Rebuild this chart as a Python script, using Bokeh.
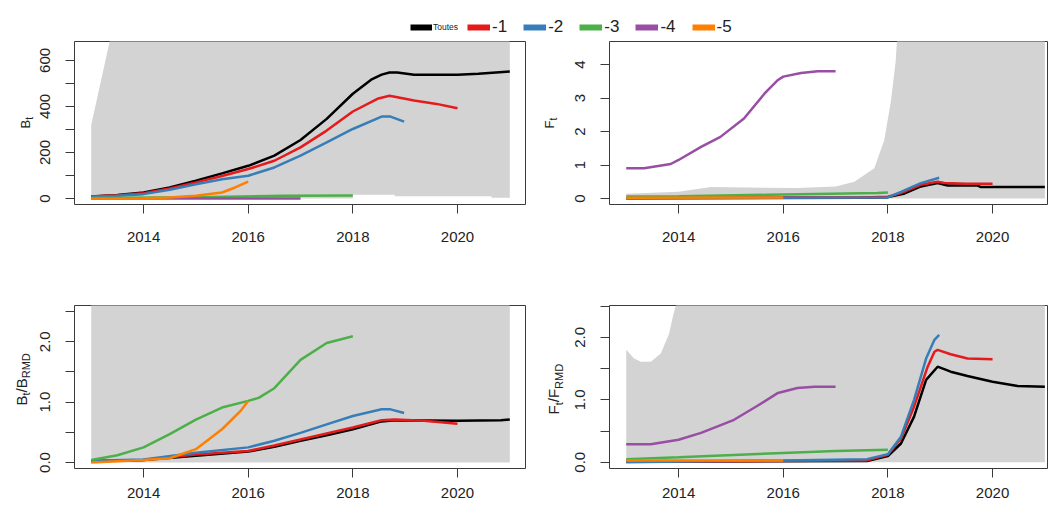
import math
from bokeh.plotting import figure
from bokeh.layouts import column, row
from bokeh.models import Range1d, FixedTicker, Legend, LegendItem
from bokeh.embed import file_html
from bokeh.resources import INLINE

# ---------------- data ----------------
series = ["Toutes", "-1", "-2", "-3", "-4", "-5"]
colors = ["#000000", "#E41A1C", "#377EB8", "#4DAF4A", "#984EA3", "#FF7F00"]

bt_x = {
    "Toutes": [2013.0, 2013.5, 2014.0, 2014.5, 2015.0, 2015.5, 2016.0, 2016.5, 2017.0, 2017.5, 2018.0, 2018.35, 2018.55, 2018.7, 2018.85, 2019.17, 2020.0, 2020.4, 2021.0],
    "-1": [2013.0, 2013.5, 2014.0, 2014.5, 2015.0, 2015.5, 2016.0, 2016.5, 2017.0, 2017.5, 2018.0, 2018.47, 2018.7, 2018.85, 2019.17, 2019.6, 2020.0],
    "-2": [2013.0, 2013.5, 2014.0, 2014.5, 2015.0, 2015.5, 2016.0, 2016.5, 2017.0, 2017.5, 2018.0, 2018.55, 2018.72, 2018.98],
    "-3": [2013.0, 2015.0, 2016.7, 2018.0],
    "-4": [2013.0, 2017.0],
    "-5": [2013.0, 2014.0, 2014.5, 2015.0, 2015.5, 2015.75, 2016.0],
}
bt_y = {
    "Toutes": [9, 15, 26, 48, 77, 109, 142, 186, 254, 346, 455, 516, 538, 547, 547, 538, 538, 542, 552],
    "-1": [9, 14, 23, 44, 70, 98, 128, 164, 222, 295, 378, 433, 446, 440, 426, 411, 392],
    "-2": [8, 12, 19, 38, 62, 84, 99, 135, 186, 244, 302, 356, 356, 334],
    "-3": [2, 5, 12, 13],
    "-4": [0, 0],
    "-5": [0, 1, 4, 12, 26, 48, 73],
}
bt_band_x = [2013.0, 2013.36, 2013.5, 2018.0, 2018.0, 2018.8, 2018.8, 2020.65, 2020.65, 2021.0]
bt_band_lo = [0, 0, 0, 0, 16, 16, 10, 10, 3, 3]
bt_band_hi = [320, 690, 1000, 1000, 1000, 1000, 1000, 1000, 1000, 1000]

ft_x = {
    "Toutes": [2013.0, 2017.5, 2018.0, 2018.3, 2018.63, 2018.95, 2019.14, 2019.7, 2019.78, 2021.0],
    "-1": [2013.0, 2017.5, 2018.0, 2018.25, 2018.63, 2018.95, 2019.08, 2019.5, 2020.0],
    "-2": [2013.0, 2018.0, 2018.25, 2018.63, 2018.98],
    "-3": [2013.0, 2014.0, 2015.7, 2017.8, 2018.0],
    "-4": [2013.0, 2013.34, 2013.85, 2014.0, 2014.43, 2014.8, 2015.25, 2015.64, 2015.9, 2016.0, 2016.34, 2016.66, 2017.0],
    "-5": [2013.0, 2016.0],
}
ft_y = {
    "Toutes": [0.01, 0.02, 0.04, 0.14, 0.36, 0.46, 0.39, 0.39, 0.34, 0.34],
    "-1": [0.02, 0.03, 0.05, 0.16, 0.41, 0.50, 0.46, 0.44, 0.44],
    "-2": [0.01, 0.03, 0.20, 0.46, 0.62],
    "-3": [0.06, 0.07, 0.11, 0.16, 0.18],
    "-4": [0.90, 0.90, 1.03, 1.15, 1.54, 1.84, 2.39, 3.13, 3.54, 3.64, 3.75, 3.80, 3.80],
    "-5": [0.02, 0.03],
}
ft_band_x = [2013.0, 2014.0, 2014.62, 2016.27, 2017.0, 2017.36, 2017.74, 2017.93, 2018.06, 2018.15, 2018.22, 2021.0]
ft_band_lo = [0, 0, 0, 0, 0, 0, 0, 0, 0, 0, 0, 0]
ft_band_hi = [0.14, 0.20, 0.34, 0.31, 0.36, 0.50, 0.90, 1.74, 2.93, 4.12, 6.0, 6.0]

br_x = {
    "Toutes": [2013.0, 2014.0, 2015.0, 2016.0, 2016.5, 2017.0, 2017.5, 2018.0, 2018.55, 2018.8, 2020.0, 2020.83, 2021.0],
    "-1": [2013.0, 2014.0, 2015.0, 2016.0, 2016.5, 2017.0, 2017.5, 2018.0, 2018.55, 2018.8, 2019.36, 2020.0],
    "-2": [2013.0, 2014.0, 2015.0, 2016.0, 2016.5, 2017.0, 2017.5, 2018.0, 2018.55, 2018.72, 2018.98],
    "-3": [2013.0, 2013.5, 2014.0, 2014.5, 2015.0, 2015.5, 2016.0, 2016.2, 2016.5, 2017.0, 2017.5, 2018.0],
    "-5": [2013.0, 2014.0, 2014.5, 2015.0, 2015.5, 2015.85, 2016.0],
}
br_y = {
    "Toutes": [0.02, 0.04, 0.11, 0.18, 0.26, 0.36, 0.45, 0.55, 0.68, 0.70, 0.69, 0.70, 0.71],
    "-1": [0.02, 0.04, 0.13, 0.19, 0.28, 0.38, 0.48, 0.58, 0.70, 0.71, 0.69, 0.64],
    "-2": [0.03, 0.05, 0.16, 0.25, 0.36, 0.49, 0.63, 0.77, 0.88, 0.88, 0.82],
    "-3": [0.04, 0.12, 0.25, 0.47, 0.71, 0.91, 1.02, 1.07, 1.23, 1.70, 1.98, 2.09],
    "-5": [0.00, 0.04, 0.07, 0.22, 0.55, 0.85, 1.02],
}
br_band_x = [2013.0, 2021.0]
br_band_lo = [0, 0]
br_band_hi = [5, 5]

fr_x = {
    "Toutes": [2013.0, 2017.6, 2018.0, 2018.25, 2018.5, 2018.73, 2018.95, 2019.2, 2019.52, 2020.0, 2020.48, 2021.0],
    "-1": [2013.0, 2017.6, 2018.0, 2018.25, 2018.5, 2018.76, 2018.89, 2018.95, 2019.2, 2019.52, 2020.0],
    "-2": [2013.0, 2016.0, 2017.6, 2018.0, 2018.25, 2018.5, 2018.73, 2018.89, 2018.98],
    "-3": [2013.0, 2014.0, 2016.0, 2017.0, 2018.0],
    "-4": [2013.0, 2013.47, 2014.0, 2014.43, 2015.06, 2015.5, 2015.9, 2016.27, 2016.6, 2017.0],
    "-5": [2013.0, 2016.0],
}
fr_y = {
    "Toutes": [0.01, 0.02, 0.10, 0.30, 0.73, 1.32, 1.53, 1.45, 1.38, 1.29, 1.22, 1.21],
    "-1": [0.01, 0.03, 0.12, 0.38, 0.89, 1.53, 1.77, 1.80, 1.73, 1.66, 1.65],
    "-2": [0.00, 0.03, 0.05, 0.13, 0.41, 1.00, 1.66, 1.96, 2.04],
    "-3": [0.05, 0.08, 0.15, 0.18, 0.20],
    "-4": [0.29, 0.29, 0.36, 0.47, 0.68, 0.90, 1.11, 1.19, 1.21, 1.21],
    "-5": [0.03, 0.03],
}
fr_band_x = [2013.0, 2013.15, 2013.28, 2013.47, 2013.66, 2013.82, 2013.89, 2013.95, 2014.05, 2021.0]
fr_band_lo = [0, 0, 0, 0, 0, 0, 0, 0, 0, 0]
fr_band_hi = [1.80, 1.66, 1.61, 1.61, 1.74, 2.06, 2.33, 2.52, 5.0, 5.0]

x_ticks = [2014, 2016, 2018, 2020]
bt_ticks = [0, 100, 200, 300, 400, 500, 600]
bt_labels = {100.0: "", 300.0: "", 500.0: ""}
ft_ticks = [0, 1, 2, 3, 4]
ratio_ticks = [0, 0.5, 1.0, 1.5, 2.0, 2.5]
ratio_labels = {0.0: "0.0", 0.5: "", 1.0: "1.0", 1.5: "", 2.0: "2.0", 2.5: ""}

FONT = "Liberation Sans"
TXT = "#222222"
BAND = "#D3D3D3"
EDGE = "#3a3a3a"

CW = {"B": 0.667, "F": 0.611, "t": 0.278, "/": 0.278, "R": 0.722, "M": 0.833, "D": 0.722}


def tw(s, px):
    return sum(CW.get(c, 0.6) for c in s) * px


def panel(w, h, bl, br, bt, bb, xr, yr, yticks, yover, x_standoff):
    p = figure(width=w, height=h, min_border_left=bl, min_border_right=br,
               min_border_top=bt, min_border_bottom=bb,
               x_range=Range1d(*xr), y_range=Range1d(*yr),
               toolbar_location=None, output_backend="svg",
               background_fill_color="white", border_fill_color="white")
    p.grid.visible = False
    p.outline_line_color = EDGE
    p.outline_line_width = 1
    xa = p.xaxis[0]
    ya = p.yaxis[0]
    xa.ticker = FixedTicker(ticks=x_ticks, minor_ticks=[])
    ya.ticker = FixedTicker(ticks=yticks, minor_ticks=[])
    for ax in (xa, ya):
        ax.axis_line_color = None
        ax.major_tick_in = 0
        ax.major_tick_out = 9
        ax.major_tick_line_color = EDGE
        ax.minor_tick_line_color = None
        ax.major_label_text_font = FONT
        ax.major_label_text_font_size = "15px"
        ax.major_label_text_color = TXT
    xa.major_label_standoff = x_standoff
    ya.major_label_orientation = "parallel"
    ya.major_label_standoff = 15
    if yover:
        ya.major_label_overrides = yover
    return p


def draw(p, bx, blo, bhi, xs, ys):
    p.varea(x=bx, y1=blo, y2=bhi, fill_color=BAND, fill_alpha=1.0)
    for name, c in zip(series, colors):
        if name in xs:
            p.line(xs[name], ys[name], line_color=c, line_width=2.5)


def title_fig(w, h, frame_top, frame_bottom, pieces, x, page_y0, sub_shift):
    """Narrow figure holding a rotated axis title. Its frame is aligned by the
    row with the neighbouring plot frame, so y is expressed as -page_y."""
    t = figure(width=w, height=h, min_border=0, x_range=Range1d(0, w),
               y_range=Range1d(-frame_bottom, -frame_top),
               toolbar_location=None, output_backend="svg", outline_line_color=None,
               background_fill_color="white", border_fill_color="white")
    t.axis.visible = False
    t.grid.visible = False
    y = -page_y0
    for text, px, sub in pieces:
        t.text(x=[x + (sub_shift if sub else 0)], y=[y], text=[text], angle=math.pi / 2,
               text_align="left", text_baseline="middle", text_font={"value": FONT},
               text_font_size=f"{px}px", text_color=TXT)
        y += tw(text, px)
    return t


hdr = figure(width=1050, height=40, min_border=0, x_range=Range1d(0, 1050), y_range=Range1d(0, 40),
             toolbar_location=None, output_backend="svg", outline_line_color=None,
             background_fill_color="white", border_fill_color="white")
hdr.axis.visible = False
hdr.grid.visible = False
dummies = [hdr.line([0, 1], [-50, -50], line_color=c, line_width=6) for c in colors]
leg1 = Legend(items=[LegendItem(label=series[0], renderers=[dummies[0]])], location=(410, 3),
              orientation="horizontal", glyph_width=22, glyph_height=20, label_standoff=1,
              label_width=0, label_text_font=FONT, label_text_font_size="8.5px", label_text_color=TXT,
              padding=0, margin=0, border_line_color=None, background_fill_alpha=0)
leg2 = Legend(items=[LegendItem(label=s, renderers=[r]) for s, r in zip(series[1:], dummies[1:])],
              location=(467, 3), orientation="horizontal", glyph_width=23, glyph_height=20,
              label_standoff=2, label_width=0, spacing=16, label_text_font=FONT,
              label_text_font_size="17px", label_text_color=TXT,
              padding=0, margin=0, border_line_color=None, background_fill_alpha=0)
hdr.add_layout(leg1)
hdr.add_layout(leg2)

XL = (2012.68, 2021.30)
XR = (2012.68, 2021.05)

H1 = 228
t1 = title_fig(36, H1, 41, 204, [("B", 13, False), ("t", 10, True)], 25, 128, 4)
p1 = panel(504, H1, 38, 15, 1, 64, XL, (-26, 682), bt_ticks, bt_labels, 18)
draw(p1, bt_band_x, bt_band_lo, bt_band_hi, bt_x, bt_y)
t2 = title_fig(28, H1, 41, 204, [("F", 13, False), ("t", 10, True)], 549 - 540, 128, 4)
p2 = panel(482, H1, 41, 3, 1, 64, XR, (-0.18, 4.69), ft_ticks, None, 18)
draw(p2, ft_band_x, ft_band_lo, ft_band_hi, ft_x, ft_y)

H2 = 237
t3 = title_fig(36, H2, 305, 468, [("B", 15, False), ("t", 11, True), ("/B", 15, False), ("RMD", 11, True)],
               20.5, 405, 5)
p3 = panel(504, H2, 38, 15, 37, 37, XL, (-0.1, 2.6), ratio_ticks, ratio_labels, 10)
draw(p3, br_band_x, br_band_lo, br_band_hi, br_x, br_y)
t4 = title_fig(28, H2, 305, 468, [("F", 15, False), ("t", 11, True), ("/F", 15, False), ("RMD", 11, True)],
               553 - 540, 414, 5)
p4 = panel(482, H2, 41, 3, 37, 37, XR, (-0.1, 2.51), ratio_ticks, ratio_labels, 10)
draw(p4, fr_band_x, fr_band_lo, fr_band_hi, fr_x, fr_y)

layout = column(hdr, row(t1, p1, t2, p2), row(t3, p3, t4, p4))

open("out.html", "w").write(file_html(layout, INLINE))
